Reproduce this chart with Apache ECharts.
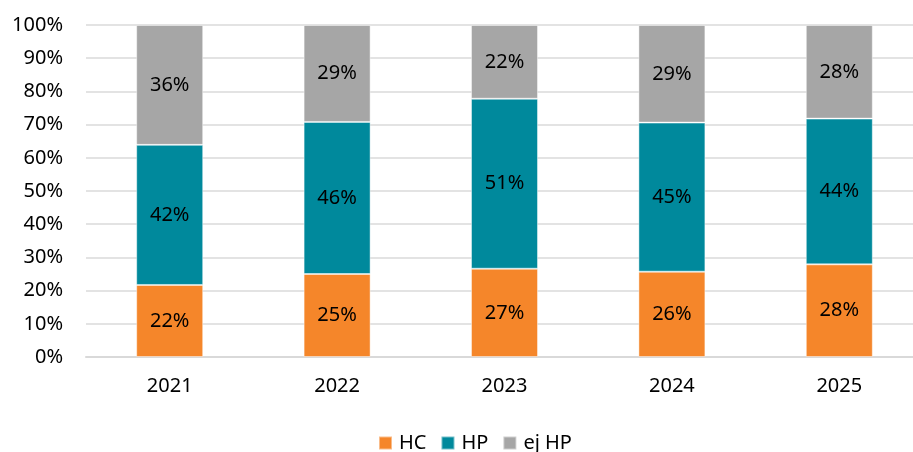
<!DOCTYPE html>
<html><head><meta charset="utf-8">
<script src="https://cdn.jsdelivr.net/npm/echarts@6/dist/echarts.min.js"></script>
<style>html,body{margin:0;padding:0;background:#fff}#c{width:913px;height:452px}</style>
</head><body><div id="c"></div>
<script>
const categories = ['2021','2022','2023','2024','2025'];
const hc = [21.7, 25.0, 26.6, 25.7, 27.9];
const hp = [42.2, 45.8, 51.2, 44.9, 43.9];
const ejHp = [36.1, 29.2, 22.2, 29.4, 28.2];
const yTicks = [0,10,20,30,40,50,60,70,80,90,100];

const font = '"Noto Sans", "Open Sans", sans-serif';
const labelCfg = {show:true, position:'inside', color:'#000', fontSize:20, fontFamily:font,
  formatter: p => Math.round(p.value) + '%'};
function mk(name, data, color){
  return {name, type:'bar', stack:'s', data, barWidth:67,
    itemStyle:{color, borderColor:'rgba(255,255,255,0.45)', borderWidth:1},
    label:labelCfg, emphasis:{disabled:true}};
}
const chart = echarts.init(document.getElementById('c'), null, {renderer:'canvas'});
chart.setOption({
  animation:false,
  grid:{left:86, top:25, width:837, height:332, containLabel:false, outerBoundsMode:'none'},
  legend:{left:373, top:428, itemWidth:13, itemHeight:13, itemGap:14,
    icon:'rect', textStyle:{fontSize:20, fontFamily:font, color:'#000', padding:[0,0,0,2]},
    data:['HC','HP','ej HP']},
  xAxis:{type:'category', data:categories,
    axisLine:{lineStyle:{color:'#d9d9d9', width:2}}, axisTick:{show:false},
    axisLabel:{fontSize:20, fontFamily:font, color:'#000', margin:19}},
  yAxis:{type:'value', min:0, max:100, interval:10,
    axisLabel:{fontSize:20, fontFamily:font, color:'#000', margin:23, formatter:v=>v+'%'},
    splitLine:{lineStyle:{color:'#e3e3e3', width:2}}, axisLine:{show:false}, axisTick:{show:false}},
  series:[mk('HC',hc,'#F5862A'), mk('HP',hp,'#00899C'), mk('ej HP',ejHp,'#A6A6A6')]
});
</script></body></html>
